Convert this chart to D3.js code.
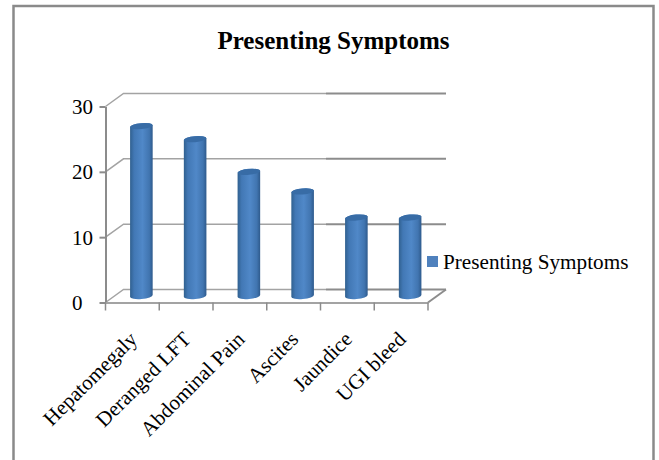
<!DOCTYPE html>
<html>
<head>
<meta charset="utf-8">
<script src="https://d3js.org/d3.v7.min.js"></script>
<style>
  html, body { margin: 0; padding: 0; background: #fff; }
  svg { display: block; }
  text { font-family: "Liberation Serif", serif; fill: #000; }
</style>
</head>
<body>
<div id="chart"></div>
<script>
  var categories = ["Hepatomegaly", "Deranged LFT", "Abdominal Pain", "Ascites", "Jaundice", "UGI bleed"];
  var values = [26, 24, 19, 16, 12, 12];
  var yTicks = [0, 10, 20, 30];
  var seriesName = "Presenting Symptoms";

  var width = 659, height = 460;
  var plot = {left: 105.5, right: 428, top: 106.5, bottom: 302.5};
  // 3d wall offset
  var depth = {x: 18, y: -13};

  var svg = d3.select("#chart").append("svg")
    .attr("width", width)
    .attr("height", height);

  var defs = svg.append("defs");
  var grad = defs.append("linearGradient").attr("id", "cyl");
  [[0, "#30608f"], [0.18, "#4278b5"], [0.55, "#5088c8"], [0.85, "#4175b0"], [1, "#2e5a8c"]].forEach(function (s) {
    grad.append("stop").attr("offset", s[0]).attr("stop-color", s[1]);
  });

  // frame, open at the bottom
  svg.append("path")
    .attr("d", "M13.5,460V6H653.5V460")
    .attr("fill", "none")
    .attr("stroke", "#8a8a8a")
    .attr("stroke-width", 2.5);

  var x = d3.scaleBand().domain(categories).range([plot.left, plot.right]).paddingInner(0.58).paddingOuter(0.29);
  var y = d3.scaleLinear().domain([0, 30]).range([plot.bottom, plot.top]);

  var gridColor = "#8c8c8c";

  // walls and gridlines
  var grid = svg.append("g");
  // the right part of each gridline is heavier in the original
  var splitX = 326;
  yTicks.forEach(function (t) {
    var yy = y(t);
    grid.append("path")
      .attr("d", "M" + plot.left + "," + yy + "L" + (plot.left + depth.x) + "," + (yy + depth.y) + "H" + splitX)
      .attr("fill", "none").attr("stroke", "#a3a3a3").attr("stroke-width", 1.5);
    grid.append("path")
      .attr("d", "M" + splitX + "," + (yy + depth.y) + "H" + (plot.right + depth.x))
      .attr("fill", "none").attr("stroke", gridColor).attr("stroke-width", 2);
  });
  // floor edge at the right
  grid.append("path")
    .attr("d", "M" + plot.right + "," + plot.bottom + "L" + (plot.right + depth.x) + "," + (plot.bottom + depth.y))
    .attr("fill", "none").attr("stroke", gridColor).attr("stroke-width", 2);

  // y axis
  var yAxis = svg.append("g")
    .attr("transform", "translate(" + plot.left + ",0)")
    .call(d3.axisLeft(y).tickValues(yTicks).tickSize(6).tickSizeOuter(0).tickFormat(d3.format("d")));
  yAxis.selectAll("path, line").attr("stroke", gridColor).attr("stroke-width", 2);
  yAxis.selectAll("text")
    .attr("x", -33.5).attr("dy", "0.33em")
    .attr("text-anchor", "start")
    .style("font-size", "21px").style("font-family", "Liberation Serif");

  // x axis
  var xAxis = svg.append("g")
    .attr("transform", "translate(0," + plot.bottom + ")")
    .call(d3.axisBottom(x).tickSize(0).tickSizeOuter(0));
  xAxis.selectAll("path").attr("stroke", "#a3a3a3").attr("stroke-width", 2);
  xAxis.selectAll("line").remove();
  var step = x.step();
  xAxis.selectAll(".sep")
    .data(d3.range(categories.length + 1))
    .enter().append("line")
      .attr("x1", function (i) { return plot.left + i * step; })
      .attr("x2", function (i) { return plot.left + i * step; })
      .attr("y1", 0).attr("y2", 8)
      .attr("stroke", gridColor).attr("stroke-width", 1.5);
  xAxis.selectAll(".tick text")
    .attr("text-anchor", "end")
    .attr("dy", 0)
    .attr("y", 0)
    .attr("transform", "translate(6,38) rotate(-45)")
    .style("font-size", "21px").style("font-family", "Liberation Serif");

  // cylinders
  var rx = x.bandwidth() / 2, ry = 3, tilt = -5, lean = 1;
  var bars = svg.append("g")
    .selectAll("g")
    .data(values)
    .enter().append("g")
      .attr("transform", function (d, i) {
        return "translate(" + (x(categories[i]) + depth.x / 2) + "," + (depth.y / 2) + ")";
      });

  bars.append("path")
    .attr("fill", "url(#cyl)")
    .attr("d", function (d) {
      var w = rx * 2, t = y(d), b = y(0);
      return "M0," + (t + lean) +
        "A" + rx + "," + ry + " " + tilt + " 0 1 " + w + "," + (t - lean) +
        "V" + (b - lean) +
        "A" + rx + "," + ry + " " + tilt + " 0 1 0," + (b + lean) + "Z";
    });

  bars.append("ellipse")
    .attr("cx", rx)
    .attr("cy", function (d) { return y(d); })
    .attr("rx", rx)
    .attr("ry", ry)
    .attr("transform", function (d) { return "rotate(" + tilt + " " + rx + " " + y(d) + ")"; })
    .attr("fill", "#386ca6");

  // title
  svg.append("text")
    .attr("x", 333.5)
    .attr("y", 49)
    .attr("text-anchor", "middle")
    .style("font-size", "25px")
    .style("font-weight", "bold")
    .text(seriesName);

  // legend
  svg.append("rect")
    .attr("x", 427).attr("y", 256)
    .attr("width", 11).attr("height", 11)
    .attr("fill", "#4f81bd");
  svg.append("text")
    .attr("x", 443)
    .attr("y", 269)
    .style("font-size", "21.2px")
    .text(seriesName);
</script>
</body>
</html>
